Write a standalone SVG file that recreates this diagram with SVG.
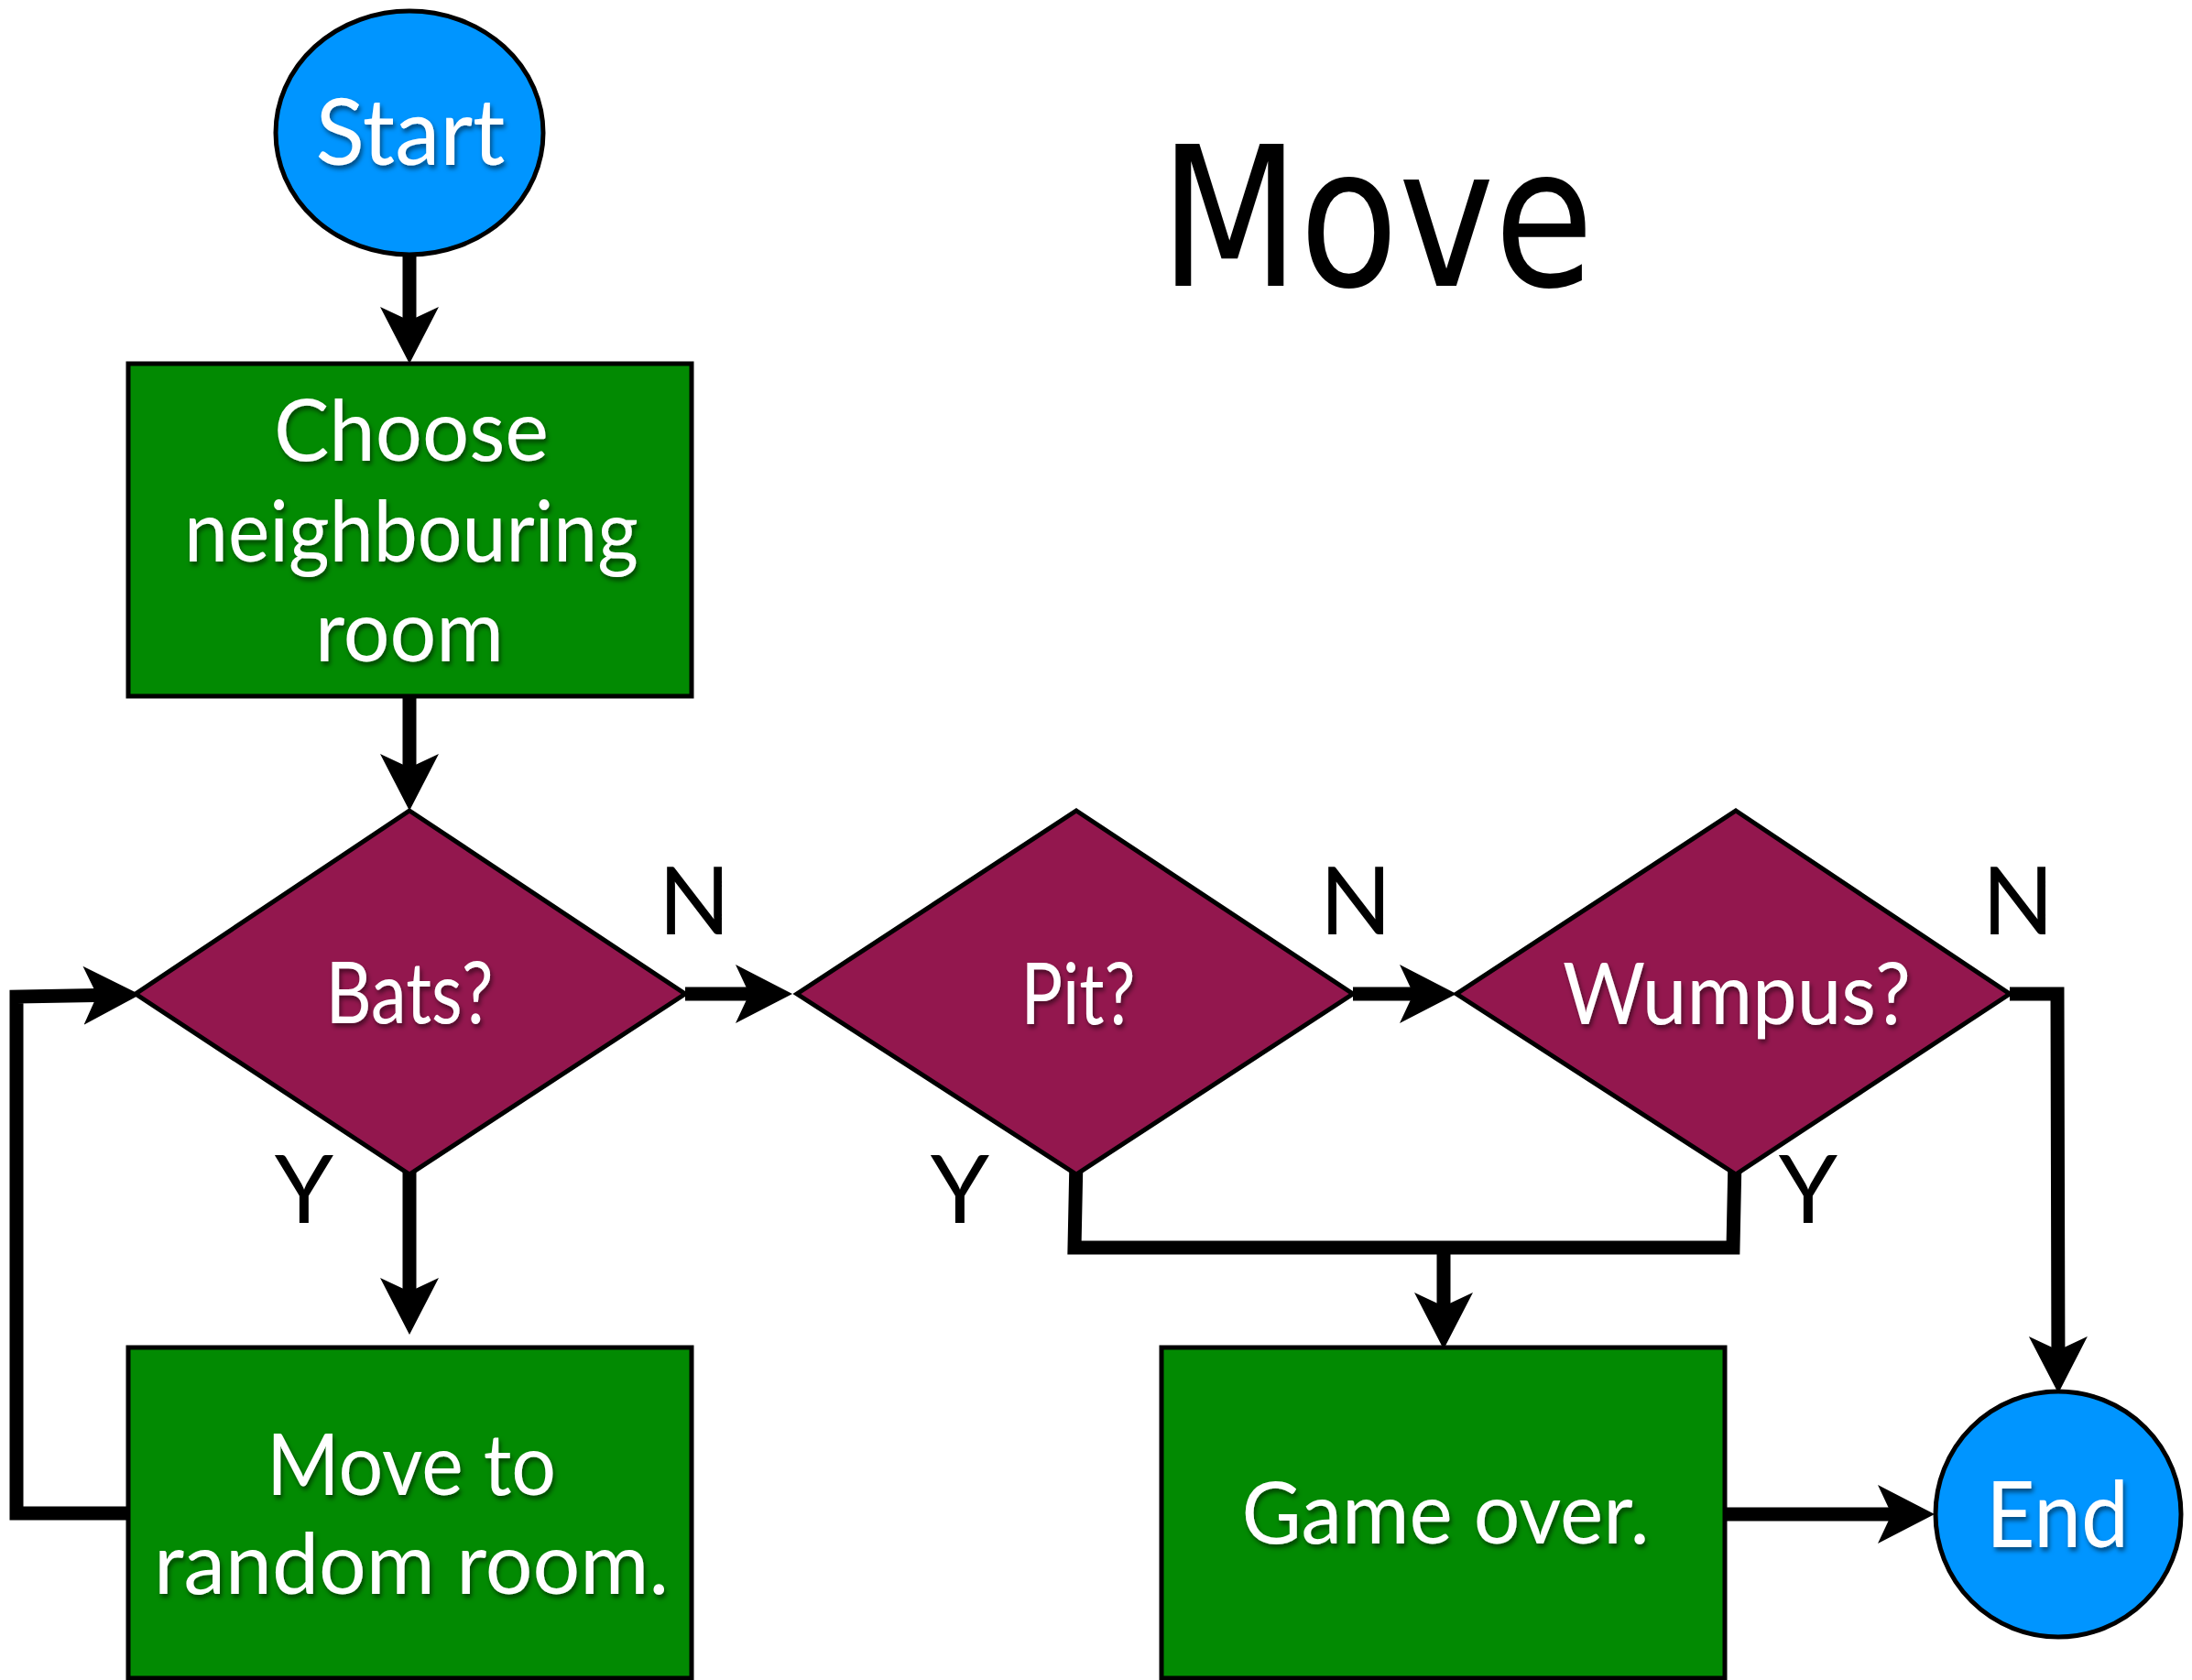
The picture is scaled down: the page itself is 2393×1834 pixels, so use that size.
<svg xmlns="http://www.w3.org/2000/svg" width="2393" height="1834" viewBox="0 0 2393 1834">
<style>
.term{fill:#0095FF;stroke:#000;stroke-width:5}
.proc{fill:#028A02;stroke:#000;stroke-width:5}
.dec{fill:#93174E;stroke:#000;stroke-width:5}
.nt{font-family:Lato,"Open Sans","Liberation Sans",sans-serif;fill:#fff;text-anchor:middle;filter:url(#sh)}
.lbl{font-family:Lato,"Open Sans","Liberation Sans",sans-serif;font-weight:400;fill:#000;text-anchor:middle;font-size:103px}
.cn{fill:none;stroke:#000;stroke-width:15;stroke-linejoin:miter;stroke-linecap:butt}
.ar{marker-end:url(#ah)}
</style>
<defs>
<filter id="sh" x="-10%" y="-20%" width="120%" height="150%">
<feDropShadow dx="2" dy="4" stdDeviation="2.5" flood-color="#000" flood-opacity="0.5"/>
</filter>
<marker id="ah" markerUnits="userSpaceOnUse" markerWidth="64" markerHeight="66" viewBox="0 0 64 66" refX="42" refY="33" orient="auto">
<path d="M0,1 L62,33 L0,65 L15,33 Z" fill="#000"/>
</marker>
</defs>
<rect width="2393" height="1834" fill="#fff"/>
<text x="1503" y="312" font-family="'DejaVu Sans',Lato,sans-serif" font-size="212" text-anchor="middle" textLength="474" lengthAdjust="spacingAndGlyphs">Move</text>
<g id="connectors">
<path class="cn ar" d="M447,265 L447,377"/>
<path class="cn ar" d="M447,760 L447,865"/>
<path class="cn ar" d="M748,1085 L845,1085"/>
<path class="cn ar" d="M1477,1085 L1570,1085"/>
<path class="cn ar" d="M447,1264 L447,1437"/>
<path class="cn ar" d="M140,1652 L18,1652 L18,1088 L133,1086"/>
<path class="cn" d="M1175,1265 L1173,1362 L1892,1362 L1894,1265"/>
<path class="cn ar" d="M1576,1362 L1576,1453"/>
<path class="cn ar" d="M2194,1085 L2246,1085 L2247,1501"/>
<path class="cn ar" d="M1884,1653 L2092,1653"/>
</g>
<g id="start">
<ellipse class="term" cx="447" cy="145" rx="146" ry="133"/>
<text class="nt" x="448" y="180" font-size="100" textLength="207" lengthAdjust="spacingAndGlyphs">Start</text>
</g>
<g id="choose">
<rect class="proc" x="140" y="397" width="615" height="363"/>
<text class="nt" x="449" y="503" font-size="94" textLength="300" lengthAdjust="spacingAndGlyphs">Choose</text>
<text class="nt" x="449" y="613" font-size="94" textLength="496" lengthAdjust="spacingAndGlyphs">neighbouring</text>
<text class="nt" x="447" y="722" font-size="94" textLength="206" lengthAdjust="spacingAndGlyphs">room</text>
</g>
<g id="bats">
<polygon class="dec" points="447,885 748,1085 447,1282 148,1085"/>
<text class="nt" x="447" y="1117" font-size="94" textLength="183" lengthAdjust="spacingAndGlyphs">Bats?</text>
</g>
<g id="pit">
<polygon class="dec" points="1175,885 1477,1085 1175,1282 870,1085"/>
<text class="nt" x="1177" y="1118" font-size="94" textLength="125" lengthAdjust="spacingAndGlyphs">Pit?</text>
</g>
<g id="wumpus">
<polygon class="dec" points="1895,885 2194,1085 1895,1282 1590,1085"/>
<text class="nt" x="1896" y="1118" font-size="94" textLength="380" lengthAdjust="spacingAndGlyphs">Wumpus?</text>
</g>
<g id="move-random">
<rect class="proc" x="140" y="1471" width="615" height="361"/>
<text class="nt" x="449" y="1632" font-size="94" textLength="316" lengthAdjust="spacingAndGlyphs">Move to</text>
<text class="nt" x="449" y="1740" font-size="94" textLength="562" lengthAdjust="spacingAndGlyphs">random room.</text>
</g>
<g id="game-over">
<rect class="proc" x="1268" y="1471" width="615" height="361"/>
<text class="nt" x="1578" y="1685" font-size="94" textLength="445" lengthAdjust="spacingAndGlyphs">Game over.</text>
</g>
<g id="end">
<ellipse class="term" cx="2247" cy="1653" rx="134" ry="134"/>
<text class="nt" x="2246" y="1689" font-size="100" textLength="156" lengthAdjust="spacingAndGlyphs">End</text>
</g>
<g id="labels">
<text class="lbl" x="758" y="1020">N</text>
<text class="lbl" x="1480" y="1020">N</text>
<text class="lbl" x="2203" y="1020">N</text>
<text class="lbl" x="332" y="1335">Y</text>
<text class="lbl" x="1048" y="1335">Y</text>
<text class="lbl" x="1974" y="1335">Y</text>
</g>
</svg>
